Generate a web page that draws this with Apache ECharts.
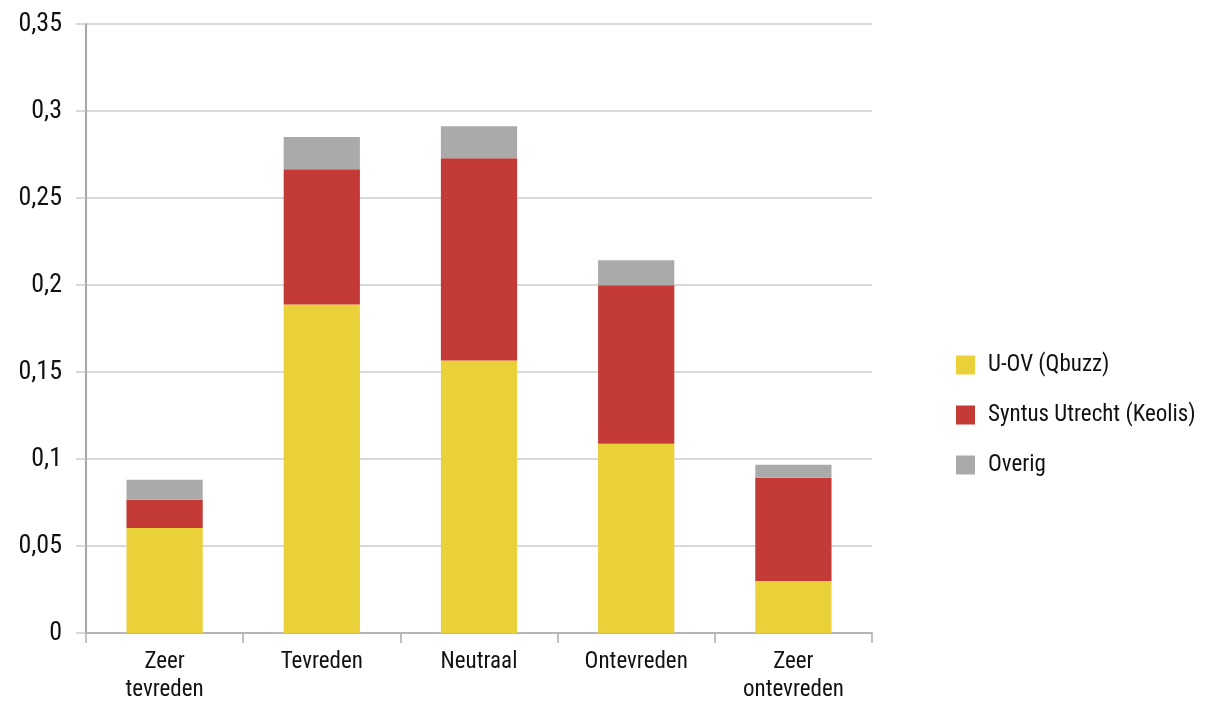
<!DOCTYPE html>
<html>
<head>
<meta charset="utf-8">
<script src="https://cdn.jsdelivr.net/npm/echarts@6/dist/echarts.min.js"></script>
<style>html,body{margin:0;padding:0;background:#fff;}#c{width:1212px;height:704px;}</style>
</head>
<body>
<div id="c"></div>
<script>
const categories = ['Zeer\ntevreden', 'Tevreden', 'Neutraal', 'Ontevreden', 'Zeer\nontevreden'];
const uov = [0.0604, 0.1888, 0.1566, 0.1088, 0.0299];
const syntus = [0.0162, 0.0777, 0.1163, 0.0910, 0.0593];
const overig = [0.0115, 0.0185, 0.0184, 0.0144, 0.0075];
const seriesNames = ['U-OV (Qbuzz)', 'Syntus Utrecht (Keolis)', 'Overig'];
const yTicks = {min: 0, max: 0.35, interval: 0.05};

const font = '"Liberation Sans Narrow", "Roboto Condensed", "Liberation Sans", sans-serif';
const chart = echarts.init(document.getElementById('c'));
const colors = ['#EAD13A', '#C43A37', '#AAAAAA'];
const data = [uov, syntus, overig];
chart.setOption({
  animation: false,
  textStyle: {fontFamily: font},
  grid: {left: 86, right: 340, top: 24, bottom: 71},
  legend: {
    orient: 'vertical', left: 951, top: 347,
    itemWidth: 19, itemHeight: 19, itemGap: 24,
    icon: 'rect',
    textStyle: {fontSize: 23, color: '#111', fontFamily: font, padding: [0, 0, 0, 8], lineHeight: 26},
    data: seriesNames
  },
  xAxis: {
    type: 'category', data: categories,
    axisLine: {lineStyle: {color: '#aaaaaa', width: 1.5}},
    axisTick: {show: true, length: 10, lineStyle: {color: '#aaaaaa', width: 1.5}},
    axisLabel: {fontSize: 23, color: '#111', margin: 15, lineHeight: 28, fontFamily: font}
  },
  yAxis: {
    type: 'value', min: yTicks.min, max: yTicks.max, interval: yTicks.interval,
    axisLine: {show: true, lineStyle: {color: '#888888', width: 1.5}},
    axisTick: {show: true, length: 10, lineStyle: {color: '#cccccc', width: 1.5}},
    splitLine: {lineStyle: {color: '#cccccc', width: 1.5}},
    axisLabel: {fontSize: 26, color: '#111', margin: 24, fontFamily: font,
      formatter: v => String(Math.round(v * 100) / 100).replace('.', ',')}
  },
  series: data.map((d, i) => ({
    name: seriesNames[i], type: 'bar', stack: 'total', data: d,
    barWidth: '48.5%', itemStyle: {color: colors[i]}
  }))
});
</script>
</body>
</html>
